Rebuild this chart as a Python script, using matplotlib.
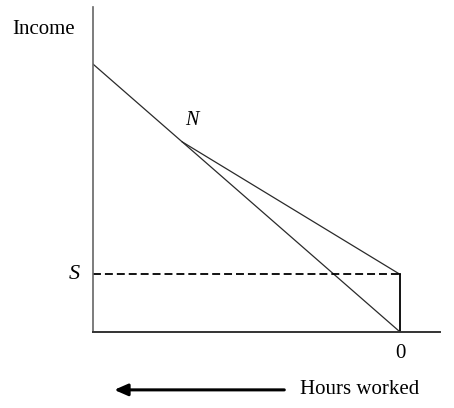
import matplotlib
matplotlib.use("Agg")
from matplotlib import pyplot as plt

# hours worked (0 at the right, growing to the left) and income
budget_hours = [10.0, 0.0]
budget_income = [10.0, 0.0]
support = 2.15                # S
n_hours = 7.1                 # point N, where the kinked line meets the budget line
kink_hours = [n_hours, 0.0]
kink_income = [n_hours, support]

plt.rcParams['font.family'] = ['Liberation Serif', 'DejaVu Serif']

fig = plt.figure(figsize=(4.54, 4.08), dpi=100)
ax = fig.add_axes([93 / 454, 76 / 408, 347 / 454, 325 / 408])

line_col = '#2a2a2a'
ax.plot(budget_hours, budget_income, color=line_col, lw=0.9)
ax.plot(kink_hours, kink_income, color=line_col, lw=0.9)
ax.plot([0, 0], [0, support], color='black', lw=1.3)
ax.plot([budget_hours[0], 0], [support, support], color='black', lw=1.3,
        linestyle=(0, (4.4, 2.2)))

ax.set_xlim(10.0, -1.3)
ax.set_ylim(0, 12.13)
for side in ['top', 'right']:
    ax.spines[side].set_visible(False)
ax.spines['left'].set_color('#666666')
ax.spines['left'].set_linewidth(1.2)
ax.spines['bottom'].set_color('#333333')
ax.spines['bottom'].set_linewidth(1.4)
ax.set_xticks([])
ax.set_yticks([])

ax.text(n_hours - 0.33, n_hours + 0.78, 'N', fontsize=14.5, style='italic',
        ha='center', va='center')
ax.text(10.6, support, 'S', fontsize=16, style='italic', ha='center', va='center',
        clip_on=False)
ax.text(0, -0.8, '0', fontsize=15, ha='center', va='center', clip_on=False)
ax.text(10.58, 11.3, 'Income', fontsize=15, ha='right', va='center',
        clip_on=False)

ax.annotate('', xy=(9.4, -2.16), xytext=(3.68, -2.16),
            arrowprops=dict(arrowstyle='-|>,head_length=0.8,head_width=0.35',
                            color='black', lw=2.2),
            annotation_clip=False)
ax.text(3.25, -2.16, 'Hours worked', fontsize=15, ha='left', va='center',
        clip_on=False)

fig.savefig('out.png', dpi=100)
